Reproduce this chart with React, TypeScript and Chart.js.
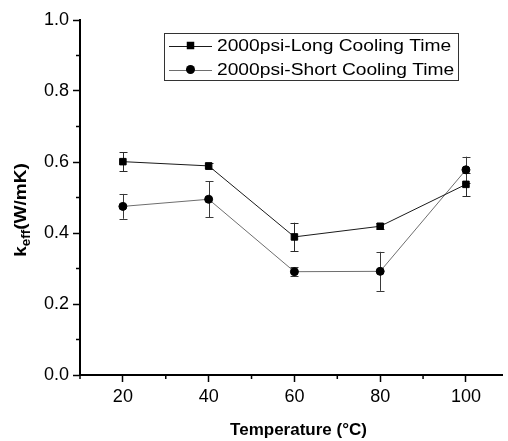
import React, { useEffect, useRef } from 'react';
import { Chart, registerables } from 'chart.js';

Chart.register(...registerables);

const temperatures = [20, 40, 60, 80, 100];
const longCooling = [0.601, 0.589, 0.389, 0.419, 0.537];
const longErr = [0.027, 0.008, 0.04, 0.008, 0.033];
const shortCooling = [0.475, 0.495, 0.291, 0.292, 0.578];
const shortErr = [0.035, 0.051, 0.012, 0.055, 0.037];
const xMajorTicks = [20, 40, 60, 80, 100];
const xMinorTicks = [10, 30, 50, 70, 90];
const yMinorTicks = [0.1, 0.3, 0.5, 0.7, 0.9];
const seriesLabels = ['2000psi-Long Cooling Time', '2000psi-Short Cooling Time'];
const xTitle = 'Temperature (°C)';
const yTitleMain = 'k';
const yTitleSub = 'eff';
const yTitleRest = '(W/mK)';

const FONT = '"Liberation Sans", Arial, sans-serif';

export default function App() {
  const ref = useRef<HTMLCanvasElement>(null);

  useEffect(() => {
    const canvas = ref.current;
    if (!canvas) return;
    const errs = [longErr, shortErr];
    const lineColors = ['#1a1a1a', '#6e6e6e'];
    const errColors = ['#2a2a2a', '#3a3a3a'];
    const styles = ['rect', 'circle'];

    const errorBars = {
      id: 'errorBars',
      beforeDatasetsDraw(chart: any) {
        const { ctx } = chart;
        const xs = chart.scales.x;
        const ys = chart.scales.y;
        ctx.save();
        chart.data.datasets.forEach((ds: any, i: number) => {
          ds.data.forEach((p: any, j: number) => {
            const e = errs[i][j];
            const px = Math.round(xs.getPixelForValue(p.x)) + 0.5;
            const top = ys.getPixelForValue(p.y + e);
            const bot = ys.getPixelForValue(p.y - e);
            ctx.strokeStyle = errColors[i];
            ctx.lineWidth = 1;
            ctx.beginPath();
            ctx.moveTo(px, top);
            ctx.lineTo(px, bot);
            ctx.moveTo(px - 4, Math.round(top) + 0.5);
            ctx.lineTo(px + 4, Math.round(top) + 0.5);
            ctx.moveTo(px - 4, Math.round(bot) + 0.5);
            ctx.lineTo(px + 4, Math.round(bot) + 0.5);
            ctx.stroke();
          });
        });
        ctx.restore();
      },
    };

    const decorations = {
      id: 'decorations',
      afterDraw(chart: any) {
        const { ctx, chartArea } = chart;
        const xs = chart.scales.x;
        const ys = chart.scales.y;
        ctx.save();
        // minor ticks
        ctx.strokeStyle = '#000';
        ctx.lineWidth = 1.5;
        ctx.beginPath();
        xMinorTicks.forEach((v) => {
          const px = xs.getPixelForValue(v);
          ctx.moveTo(px, chartArea.bottom);
          ctx.lineTo(px, chartArea.bottom + 4);
        });
        yMinorTicks.forEach((v) => {
          const py = ys.getPixelForValue(v);
          ctx.moveTo(chartArea.left, py);
          ctx.lineTo(chartArea.left - 4, py);
        });
        ctx.stroke();

        // x title
        ctx.fillStyle = '#000';
        ctx.font = 'bold 17px ' + FONT;
        ctx.textAlign = 'center';
        ctx.textBaseline = 'alphabetic';
        ctx.fillText(xTitle, 298.5, 434.5);

        // y title (rotated with subscript)
        ctx.save();
        ctx.translate(26, 210);
        ctx.rotate(-Math.PI / 2);
        ctx.scale(1.12, 1);
        ctx.textAlign = 'left';
        const mainFont = 'bold 17px ' + FONT;
        const subFont = 'bold 12px ' + FONT;
        ctx.font = mainFont;
        const w1 = ctx.measureText(yTitleMain).width;
        const w3 = ctx.measureText(yTitleRest).width;
        ctx.font = subFont;
        const w2 = ctx.measureText(yTitleSub).width;
        let sx = -(w1 + w2 + w3) / 2;
        ctx.font = mainFont;
        ctx.fillText(yTitleMain, sx, 0);
        sx += w1;
        ctx.font = subFont;
        ctx.fillText(yTitleSub, sx, 4);
        sx += w2;
        ctx.font = mainFont;
        ctx.fillText(yTitleRest, sx, 0);
        ctx.restore();

        // legend
        const boxL = 164.5, boxT = 33.5, boxW = 294, boxH = 47;
        ctx.strokeStyle = '#333';
        ctx.lineWidth = 1;
        ctx.strokeRect(boxL, boxT, boxW, boxH);
        const rows = [45.5, 69.5];
        const baselines = [50.8, 74.8];
        chart.data.datasets.forEach((ds: any, i: number) => {
          const cy = rows[i];
          ctx.strokeStyle = lineColors[i];
          ctx.lineWidth = 1;
          ctx.beginPath();
          ctx.moveTo(169, Math.round(cy) + 0.5);
          ctx.lineTo(212, Math.round(cy) + 0.5);
          ctx.stroke();
          ctx.fillStyle = '#000';
          ctx.beginPath();
          if (styles[i] === 'rect') {
            ctx.rect(190.5 - 3.75, cy - 3.75, 7.5, 7.5);
          } else {
            ctx.arc(190.5, cy, 4.5, 0, Math.PI * 2);
          }
          ctx.fill();
          ctx.save();
          ctx.translate(217, baselines[i]);
          ctx.scale(1.2, 1);
          ctx.font = '16px ' + FONT;
          ctx.textAlign = 'left';
          ctx.textBaseline = 'alphabetic';
          ctx.fillStyle = '#000';
          ctx.fillText(ds.label, 0, 0);
          ctx.restore();
        });
        ctx.restore();
      },
    };

    const tickFont = { family: FONT, size: 18 };

    const chart = new Chart(canvas, {
      type: 'line',
      data: {
        datasets: [
          {
            label: seriesLabels[0],
            data: temperatures.map((t, i) => ({ x: t, y: longCooling[i] })),
            borderColor: lineColors[0],
            borderWidth: 1,
            pointStyle: 'rect',
            pointRadius: 4.6,
            pointBackgroundColor: '#000',
            pointBorderColor: '#000',
            pointBorderWidth: 1,
            fill: false,
            tension: 0,
          },
          {
            label: seriesLabels[1],
            data: temperatures.map((t, i) => ({ x: t, y: shortCooling[i] })),
            borderColor: lineColors[1],
            borderWidth: 1,
            pointStyle: 'circle',
            pointRadius: 4,
            pointBackgroundColor: '#000',
            pointBorderColor: '#000',
            pointBorderWidth: 1,
            fill: false,
            tension: 0,
          },
        ],
      },
      options: {
        responsive: false,
        animation: false,
        devicePixelRatio: 1,
        layout: { padding: { top: 20, right: 0, left: 0, bottom: 0 } },
        plugins: {
          legend: { display: false },
          tooltip: { enabled: false },
        },
        scales: {
          x: {
            type: 'linear',
            min: 10,
            max: 108.5,
            afterBuildTicks: (s: any) => {
              s.ticks = xMajorTicks.map((v) => ({ value: v }));
            },
            afterFit: (s: any) => {
              s.height = 66;
            },
            border: { display: true, color: '#000', width: 2 },
            grid: {
              display: true,
              drawOnChartArea: false,
              drawTicks: true,
              tickLength: 7,
              tickColor: '#000',
              tickWidth: 1.5,
            },
            ticks: {
              font: tickFont,
              color: '#000',
              padding: 4,
              maxRotation: 0,
              autoSkip: false,
            },
          },
          y: {
            type: 'linear',
            min: 0,
            max: 1,
            afterFit: (s: any) => {
              s.width = 80;
            },
            border: { display: true, color: '#000', width: 2 },
            grid: {
              display: true,
              drawOnChartArea: false,
              drawTicks: true,
              tickLength: 7,
              tickColor: '#000',
              tickWidth: 1.5,
            },
            ticks: {
              stepSize: 0.2,
              font: tickFont,
              color: '#000',
              padding: 4,
              callback: (v: any) => Number(v).toFixed(1),
            },
          },
        },
      },
      plugins: [errorBars, decorations],
    });

    return () => chart.destroy();
  }, []);

  return (
    <div style={{ position: 'absolute', left: 0, top: 0, width: 508, height: 441, background: '#fff' }}>
      <canvas ref={ref} width={508} height={441} style={{ display: 'block' }} />
    </div>
  );
}
